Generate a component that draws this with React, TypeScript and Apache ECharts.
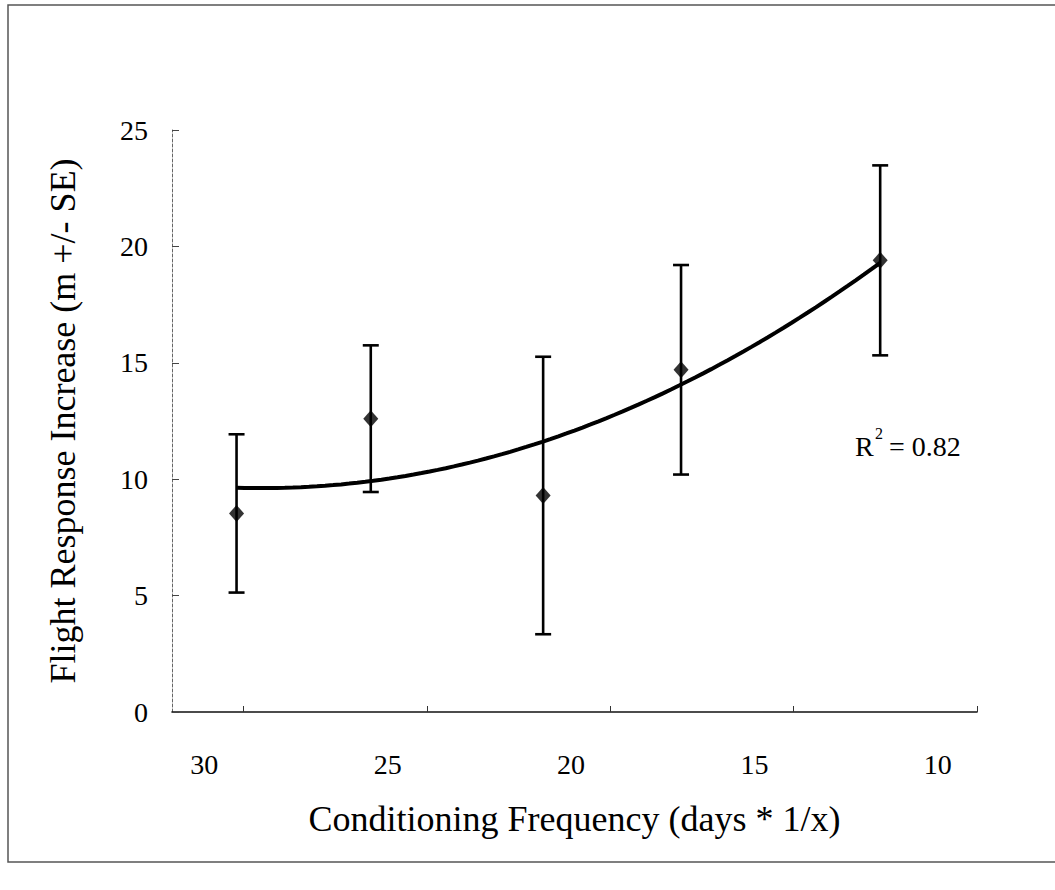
import React, { useEffect, useRef } from "react";
import * as echarts from "echarts";

// ---- data ----
const xValues = [29.12, 25.46, 20.76, 17.0, 11.57]; // conditioning frequency
const means = [8.53, 12.6, 9.3, 14.7, 19.4]; // flight response increase
const stdErr = [3.4, 3.15, 5.96, 4.5, 4.08]; // +/- SE
const xTickLabels = [30, 25, 20, 15, 10];
const xTickMarks = [28.93, 23.93, 18.93, 13.93, 8.93];
const yTickLabels = [0, 5, 10, 15, 20, 25];
const rSquaredText = "= 0.82";

const FONT = "'Liberation Serif', 'Times New Roman', serif";

// least-squares 2nd order polynomial (the trendline in the original)
function fitQuadratic(xs: number[], ys: number[]) {
  let s0 = 0, s1 = 0, s2 = 0, s3 = 0, s4 = 0, t0 = 0, t1 = 0, t2 = 0;
  for (let i = 0; i < xs.length; i++) {
    const x = xs[i], y = ys[i];
    s0 += 1; s1 += x; s2 += x * x; s3 += x * x * x; s4 += x * x * x * x;
    t0 += y; t1 += x * y; t2 += x * x * y;
  }
  const M = [
    [s0, s1, s2, t0],
    [s1, s2, s3, t1],
    [s2, s3, s4, t2],
  ];
  for (let c = 0; c < 3; c++) {
    let p = c;
    for (let r = c + 1; r < 3; r++) if (Math.abs(M[r][c]) > Math.abs(M[p][c])) p = r;
    [M[c], M[p]] = [M[p], M[c]];
    for (let r = 0; r < 3; r++) {
      if (r === c) continue;
      const f = M[r][c] / M[c][c];
      for (let k = c; k < 4; k++) M[r][k] -= f * M[c][k];
    }
  }
  return [M[0][3] / M[0][0], M[1][3] / M[1][1], M[2][3] / M[2][2]];
}

export default function App() {
  const ref = useRef<HTMLDivElement>(null);

  useEffect(() => {
    document.body.style.margin = "0";
    if (!ref.current) return;
    const chart = echarts.init(ref.current, undefined, { renderer: "svg" });

    const [a, b, c] = fitQuadratic(xValues, means);
    const xMin = Math.min(...xValues);
    const xMax = Math.max(...xValues);
    const trend: number[][] = [];
    const steps = 80;
    for (let i = 0; i <= steps; i++) {
      const x = xMax - ((xMax - xMin) * i) / steps;
      trend.push([x, a + b * x + c * x * x]);
    }

    const errData = xValues.map((x, i) => [x, means[i] - stdErr[i], means[i] + stdErr[i]]);
    const points = xValues.map((x, i) => [x, means[i]]);

    const textStyle = { fontFamily: FONT, color: "#000", fontSize: 28 };

    chart.setOption({
      animation: false,
      backgroundColor: "#fff",
      grid: { left: 172, right: 78, top: 130, bottom: 178 },
      xAxis: {
        type: "value",
        inverse: true,
        min: 8.93,
        max: 30.88,
        name: "Conditioning Frequency (days * 1/x)",
        nameLocation: "middle",
        nameGap: 89,
        nameTextStyle: { fontFamily: FONT, color: "#000", fontSize: 36 },
        axisLine: { onZero: false, lineStyle: { color: "#111", width: 1.6 } },
        axisTick: {
          show: true,
          inside: true,
          length: 6,
          customValues: xTickMarks,
          lineStyle: { color: "#333", width: 1 },
        },
        axisLabel: { ...textStyle, margin: 38, customValues: xTickLabels },
        splitLine: { show: false },
      },
      yAxis: {
        type: "value",
        min: 0,
        max: 25,
        interval: 5,
        position: "left",
        name: "Flight Response Increase (m +/- SE)",
        nameLocation: "middle",
        nameRotate: 90,
        nameGap: 91,
        nameTextStyle: { fontFamily: FONT, color: "#000", fontSize: 36 },
        axisLine: {
          show: true,
          onZero: false,
          lineStyle: { color: "#666", width: 1, type: [3, 2] },
        },
        axisTick: { show: true, inside: true, length: 7, lineStyle: { color: "#444", width: 1 } },
        axisLabel: {
          ...textStyle,
          margin: 24,
          customValues: yTickLabels,
        },
        splitLine: { show: false },
      },
      series: [
        {
          type: "line",
          data: trend,
          showSymbol: false,
          smooth: false,
          lineStyle: { color: "#000", width: 4 },
          z: 2,
        },
        {
          type: "custom",
          data: errData,
          encode: { x: 0, y: [1, 2] },
          z: 3,
          renderItem: (params: any, api: any) => {
            const x = api.value(0);
            const top = api.coord([x, api.value(2)]);
            const bot = api.coord([x, api.value(1)]);
            const hw = 8;
            const st = { stroke: "#000", lineWidth: 2.6 };
            return {
              type: "group",
              children: [
                { type: "line", shape: { x1: top[0], y1: top[1], x2: bot[0], y2: bot[1] }, style: st },
                { type: "line", shape: { x1: top[0] - hw, y1: top[1], x2: top[0] + hw, y2: top[1] }, style: st },
                { type: "line", shape: { x1: bot[0] - hw, y1: bot[1], x2: bot[0] + hw, y2: bot[1] }, style: st },
              ],
            };
          },
        },
        {
          type: "scatter",
          data: points,
          symbol: "diamond",
          symbolSize: [15, 17],
          itemStyle: { color: "#000" },
          z: 4,
        },
      ],
      graphic: [
        {
          type: "rect",
          silent: true,
          shape: { x: 8, y: 5, width: 1060, height: 857 },
          style: { fill: "none", stroke: "#555", lineWidth: 1.5 },
        },
        {
          type: "text",
          left: 855,
          top: 432,
          style: { text: "R", fontFamily: FONT, fontSize: 28, fill: "#000" },
        },
        {
          type: "text",
          left: 875,
          top: 425,
          style: { text: "2", fontFamily: FONT, fontSize: 16, fill: "#000" },
        },
        {
          type: "text",
          left: 889,
          top: 432,
          style: { text: rSquaredText, fontFamily: FONT, fontSize: 28, fill: "#000" },
        },
      ],
    });

    return () => chart.dispose();
  }, []);

  return <div ref={ref} style={{ width: 1055, height: 890 }} />;
}
